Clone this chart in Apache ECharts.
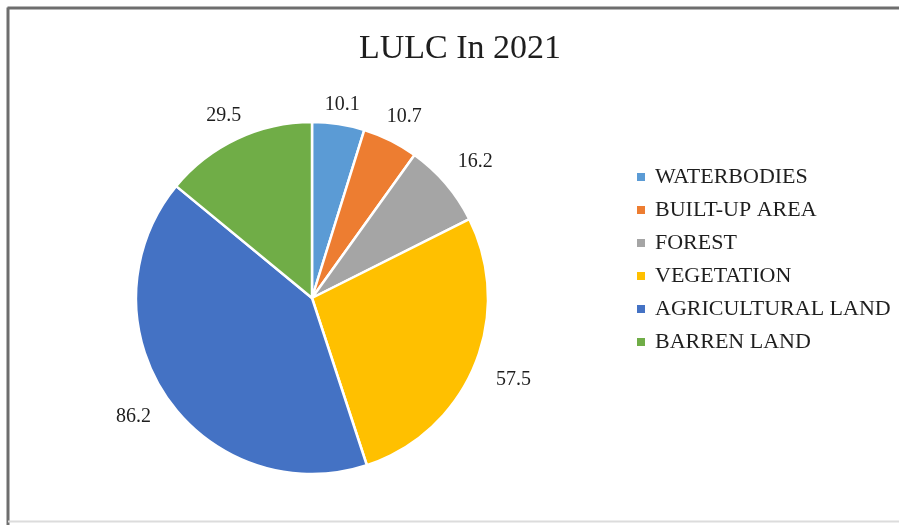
<!DOCTYPE html>
<html>
<head>
<meta charset="utf-8">
<title>LULC In 2021</title>
<script src="https://cdn.jsdelivr.net/npm/echarts@6/dist/echarts.min.js"></script>
<style>
  html, body { margin: 0; padding: 0; background: #ffffff; }
  #chart { width: 899px; height: 525px; }
</style>
</head>
<body>
<div id="chart"></div>
<script>
// Land use / land cover classes and their values for 2021
const categories = ['WATERBODIES', 'BUILT-UP AREA', 'FOREST', 'VEGETATION', 'AGRICULTURAL LAND', 'BARREN LAND'];
const values = [10.1, 10.7, 16.2, 57.5, 86.2, 29.5];
const colors = ['#5B9BD5', '#ED7D31', '#A5A5A5', '#FFC000', '#4472C4', '#70AD47'];

const SERIF = '"Liberation Serif", "Times New Roman", "DejaVu Serif", serif';
const CX = 312, CY = 298, R = 176;

const total = values.reduce((a, b) => a + b, 0);
// mid-angle of each slice, measured clockwise from 12 o'clock
const midAngles = [];
{
  let acc = 0;
  values.forEach(v => {
    midAngles.push((acc + v / 2) / total * 2 * Math.PI);
    acc += v;
  });
}

const chart = echarts.init(document.getElementById('chart'), null, { renderer: 'canvas' });

chart.setOption({
  backgroundColor: '#ffffff',
  animation: false,
  title: {
    text: 'LULC In 2021',
    left: 455,
    top: 27,
    textAlign: 'center',
    textStyle: { fontFamily: SERIF, fontSize: 34, fontWeight: 'normal', color: '#1e1e1e' }
  },
  legend: {
    orient: 'vertical',
    left: 632,
    top: 161,
    itemWidth: 8,
    itemHeight: 8,
    itemGap: 11,
    icon: 'rect',
    itemStyle: { borderWidth: 0 },
    data: categories,
    textStyle: { fontFamily: SERIF, fontSize: 22, color: '#1e1e1e', lineHeight: 22, padding: [0, 0, 0, 5] }
  },
  graphic: [
    // chart frame: dark top and left edges, faint bottom edge
    { type: 'line', shape: { x1: 7.5, y1: 8, x2: 899, y2: 8 }, style: { stroke: '#6e6e6e', lineWidth: 3 }, silent: true },
    { type: 'line', shape: { x1: 8, y1: 7.5, x2: 8, y2: 525 }, style: { stroke: '#6e6e6e', lineWidth: 3 }, silent: true },
    { type: 'line', shape: { x1: 8, y1: 521.5, x2: 899, y2: 521.5 }, style: { stroke: '#dcdcdc', lineWidth: 2 }, silent: true }
  ],
  series: [{
    type: 'pie',
    center: [CX, CY],
    radius: [0, R],
    startAngle: 90,
    clockwise: true,
    avoidLabelOverlap: false,
    itemStyle: { borderColor: '#ffffff', borderWidth: 2.5 },
    label: {
      show: true,
      position: 'outside',
      formatter: p => p.value.toFixed(1),
      fontFamily: SERIF,
      fontSize: 20,
      color: '#1e1e1e'
    },
    labelLine: { show: false },
    // each value sits just beyond the rim on its slice's bisector
    labelLayout: params => {
      const a = midAngles[params.dataIndex];
      const dx = Math.sin(a), dy = -Math.cos(a);
      const w = params.labelRect.width, h = params.labelRect.height;
      const d = R + 12 + 12 * dx * dx + Math.abs(dx) * w / 2 + Math.abs(dy) * h / 2;
      return { x: CX + dx * d, y: CY + dy * (d - 5), align: 'center', verticalAlign: 'middle' };
    },
    emphasis: { disabled: true },
    data: categories.map((name, i) => ({ name, value: values[i], itemStyle: { color: colors[i] } }))
  }]
});
</script>
</body>
</html>
